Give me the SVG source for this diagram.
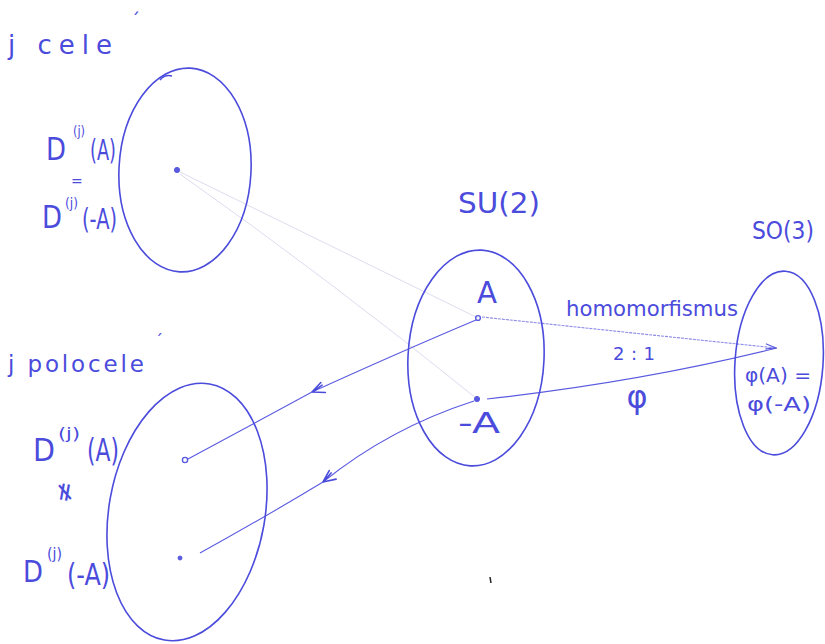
<svg xmlns="http://www.w3.org/2000/svg" width="825" height="644" viewBox="0 0 825 644">
<style>
text{font-family:"DejaVu Sans","Liberation Sans",sans-serif;fill:#4b4bdc;}
.ring{fill:none;stroke:#4b4bdc;stroke-width:1.6;}
.con{fill:none;stroke:#5a5ae0;stroke-width:1.1;}
.faint{fill:none;stroke:#dcdcef;stroke-width:1;}
.dot{fill:#5a5ae0;stroke:#5a5ae0;stroke-width:1;}
</style>
<defs>
<marker id="arr" viewBox="-14 -8 16 16" markerWidth="16" markerHeight="16" refX="0" refY="0" orient="auto" markerUnits="userSpaceOnUse">
<path d="M0 0 L-12 -6 M0 0 L-12 5 M-2 0 L-12 2" fill="none" stroke="#4b4bdc" stroke-width="1.6" stroke-linecap="round"/>
</marker>
<marker id="arr2" viewBox="-14 -8 16 16" markerWidth="16" markerHeight="16" refX="0" refY="0" orient="auto" markerUnits="userSpaceOnUse">
<path d="M0 0 L-10 -3 M0 0 L-10 2" fill="none" stroke="#5a5ae0" stroke-width="1.2" stroke-linecap="round"/>
</marker>
</defs>
<rect width="825" height="644" fill="#ffffff"/>

<g id="title-cele">
<text x="8" y="54" font-size="26" textLength="104" lengthAdjust="spacing">j  cele</text>
<text x="131" y="26" font-size="18">´</text>
</g>
<g id="title-polocele">
<text x="8" y="372" font-size="23" textLength="136" lengthAdjust="spacing">j  polocele</text>
<text x="155" y="346" font-size="16">´</text>
</g>

<g id="connectors">
<path class="faint" d="M180 172 L478 318"/>
<path class="faint" d="M180 174 Q330 280 476 398"/>
<path class="con" d="M482 317 L633 333 L776 348" stroke-dasharray="3 1" stroke-opacity="0.7" marker-end="url(#arr2)"/>
<path class="con" d="M487 399 Q640 382 777 348"/>
<path class="con" d="M476 320 Q400 352 312 392" marker-end="url(#arr)"/>
<path class="con" d="M312 392 L188 459"/>
<path class="con" d="M474 401 Q390 428 323 482" marker-end="url(#arr)"/>
<path class="con" d="M323 482 Q260 520 200 553"/>
</g>

<g id="node-cele">
<ellipse class="ring" cx="185" cy="170" rx="66" ry="102" transform="rotate(3 185 170)"/>
<path class="ring" d="M160 80 Q165 74 172 76"/>
<circle class="dot" cx="177" cy="170" r="2.6"/>
<text x="46" y="160" font-size="32" textLength="20" lengthAdjust="spacingAndGlyphs">D</text>
<text x="73" y="136" font-size="14" textLength="12" lengthAdjust="spacingAndGlyphs">(j)</text>
<text x="90" y="160" font-size="28" textLength="26" lengthAdjust="spacingAndGlyphs">(A)</text>
<text x="71" y="186" font-size="14">=</text>
<text x="42" y="228" font-size="32" textLength="20" lengthAdjust="spacingAndGlyphs">D</text>
<text x="65" y="208" font-size="14" textLength="13" lengthAdjust="spacingAndGlyphs">(j)</text>
<text x="82" y="229" font-size="28" textLength="35" lengthAdjust="spacingAndGlyphs">(-A)</text>
</g>

<g id="node-polocele">
<ellipse class="ring" cx="187" cy="512" rx="78" ry="130" transform="rotate(10 187 512)"/>
<circle cx="185" cy="460" r="2.6" fill="none" stroke="#5a5ae0" stroke-width="1.4"/>
<circle class="dot" cx="180" cy="558" r="2"/>
<text x="33" y="461" font-size="32" textLength="22" lengthAdjust="spacingAndGlyphs">D</text>
<text x="58" y="439" font-size="16" textLength="22" lengthAdjust="spacingAndGlyphs">(j)</text>
<text x="87" y="461" font-size="32" textLength="32" lengthAdjust="spacingAndGlyphs">(A)</text>
<text x="0" y="0" font-size="26" transform="translate(64 492) rotate(-80)" text-anchor="middle" dy="9">≠</text>
<text x="23" y="582" font-size="30" textLength="20" lengthAdjust="spacingAndGlyphs">D</text>
<text x="47" y="559" font-size="15" textLength="15" lengthAdjust="spacingAndGlyphs">(j)</text>
<text x="67" y="585" font-size="30" textLength="43" lengthAdjust="spacingAndGlyphs">(-A)</text>
</g>

<g id="node-su2">
<text x="458" y="213" font-size="28" textLength="82" lengthAdjust="spacingAndGlyphs">SU(2)</text>
<ellipse class="ring" cx="476" cy="358" rx="68" ry="108" transform="rotate(3 476 358)"/>
<text x="487" y="303" font-size="30" text-anchor="middle" textLength="20" lengthAdjust="spacingAndGlyphs">A</text>
<text x="479" y="433" font-size="28" text-anchor="middle" textLength="42" lengthAdjust="spacingAndGlyphs">-A</text>
<circle cx="478" cy="318" r="2.4" fill="none" stroke="#5a5ae0" stroke-width="1.4"/>
<circle class="dot" cx="477" cy="399" r="2.6"/>
</g>

<g id="edge-labels">
<text x="566" y="316" font-size="22" textLength="172" lengthAdjust="spacingAndGlyphs">homomorfismus</text>
<text x="634" y="360" font-size="18" text-anchor="middle" textLength="42" lengthAdjust="spacing">2 : 1</text>
<text x="637" y="408" font-size="32" text-anchor="middle">φ</text>
</g>

<g id="node-so3">
<text x="752" y="239" font-size="24" textLength="62" lengthAdjust="spacingAndGlyphs">SO(3)</text>
<ellipse class="ring" cx="779" cy="363" rx="44" ry="92" transform="rotate(4 779 363)"/>
<text x="745" y="382" font-size="20" textLength="66" lengthAdjust="spacingAndGlyphs">φ(A) =</text>
<text x="747" y="411" font-size="20" textLength="64" lengthAdjust="spacingAndGlyphs">φ(-A)</text>
</g>

<path d="M490 577 L491 583" stroke="#222" stroke-width="1.5"/>
</svg>
